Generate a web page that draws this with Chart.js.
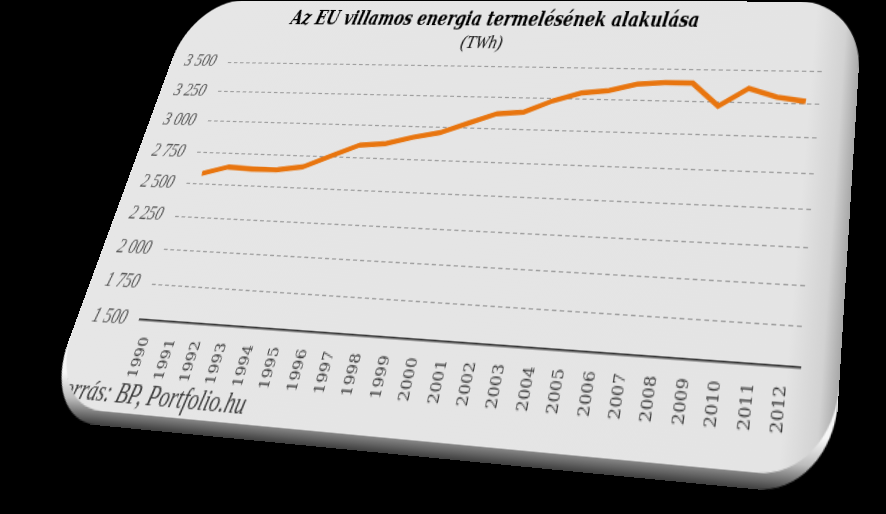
<!DOCTYPE html>
<html>
<head>
<meta charset="utf-8">
<script src="https://cdn.jsdelivr.net/npm/chart.js@4.4.1/dist/chart.umd.min.js"></script>
<style>
  html, body { margin: 0; padding: 0; background: #000; width: 886px; height: 514px; overflow: hidden; }
  #stage { position: absolute; left: 0; top: 0; width: 705px; height: 348px; transform-origin: 0 0; }
  #base { position: absolute; left: 0; top: 10px; width: 705px; height: 348px; border-radius: 58px;
    background: linear-gradient(to bottom, #f6f6f6 0%, #f6f6f6 90%, #bdbdbd 95%, #3e3e3e 100%); }
  #card { position: absolute; left: 0; top: 0; width: 705px; height: 348px; border-radius: 58px; overflow: hidden;
    background: linear-gradient(to right, #e6e6e6 0%, #e4e4e4 94%, #d2d2d2 98%, #a8a8a8 100%); }
  #chart { position: absolute; left: 0; top: 0; }
  #source { position: absolute; left: 1px; top: 323px; font: italic 20px 'Liberation Serif', serif; color: #3c3c3c; white-space: nowrap; }
</style>
</head>
<body>
<div id="stage">
  <div id="base"></div>
  <div id="card">
    <canvas id="chart" width="705" height="348"></canvas>
    <div id="source">Forrás: BP, Portfolio.hu</div>
  </div>
</div>
<script>
// Chart data (TWh)
const years = ['1990', '1991', '1992', '1993', '1994', '1995', '1996', '1997', '1998', '1999', '2000', '2001',
  '2002', '2003', '2004', '2005', '2006', '2007', '2008', '2009', '2010', '2011', '2012'];
const production = [2583, 2642, 2632, 2635, 2664, 2757, 2846, 2865, 2920, 2962, 3042, 3120,
  3138, 3231, 3297, 3320, 3374, 3391, 3390, 3219, 3358, 3296, 3268];
const yMin = 1500;
const yMax = 3500;
const yStep = 250;

// where the plot corners sit in the tilted photo: TL, TR, BR, BL
const plotCorners = [[228, 62], [823, 71], [800, 367], [140, 319]];

function formatThousands(v) {
  return String(v).replace(/\B(?=(\d{3})+(?!\d))/g, ' ');
}

const ctx = document.getElementById('chart').getContext('2d');
const chart = new Chart(ctx, {
  type: 'line',
  data: {
    labels: years,
    datasets: [
      {
        data: production,
        borderColor: '#e8750f',
        borderWidth: 4.5,
        pointRadius: 0,
        tension: 0,
        fill: false
      }
    ]
  },
  options: {
    responsive: false,
    animation: false,
    layout: {
      padding: { left: 2, right: 32, top: 4, bottom: 20 }
    },
    plugins: {
      legend: { display: false },
      tooltip: { enabled: false },
      title: {
        display: true,
        text: 'Az EU villamos energia termelésének alakulása',
        color: '#000',
        font: { family: "'DejaVu Serif Condensed', 'DejaVu Serif', serif", size: 18, weight: 'bold', style: 'italic' },
        padding: { top: 4, bottom: 0 }
      },
      subtitle: {
        display: true,
        text: '(TWh)',
        color: '#111',
        font: { family: "'Liberation Serif', serif", size: 17, style: 'italic' },
        padding: { top: 0, bottom: 10 }
      }
    },
    scales: {
      x: {
        offset: true,
        grid: { display: false },
        border: { display: true, color: '#333', width: 1.5 },
        ticks: {
          minRotation: 90,
          maxRotation: 90,
          autoSkip: false,
          padding: 5,
          color: '#3a3a3a',
          font: { family: "'DejaVu Serif', serif", size: 12 }
        }
      },
      y: {
        min: yMin,
        max: yMax,
        grid: { color: '#9c9c9c', lineWidth: 1, drawTicks: false },
        border: { display: false, dash: [4, 3] },
        ticks: {
          stepSize: yStep,
          padding: 14,
          color: '#555',
          font: { family: "'Liberation Serif', serif", size: 16, style: 'italic' },
          callback: (v) => formatThousands(v)
        }
      }
    }
  }
});

// Solve the 3x3 projective map that sends the flat plot area onto the tilted one
function homography(src, dst) {
  const A = [];
  for (let i = 0; i < 4; i++) {
    const [x, y] = src[i];
    const [u, v] = dst[i];
    A.push([x, y, 1, 0, 0, 0, -u * x, -u * y, u]);
    A.push([0, 0, 0, x, y, 1, -v * x, -v * y, v]);
  }
  const n = 8;
  for (let c = 0; c < n; c++) {
    let p = c;
    for (let r = c + 1; r < n; r++) if (Math.abs(A[r][c]) > Math.abs(A[p][c])) p = r;
    [A[c], A[p]] = [A[p], A[c]];
    for (let r = 0; r < n; r++) {
      if (r === c) continue;
      const f = A[r][c] / A[c][c];
      for (let k = c; k <= n; k++) A[r][k] -= f * A[c][k];
    }
  }
  return A.map((row, i) => row[n] / row[i]);
}

const area = chart.chartArea;
const flat = [[area.left, area.top], [area.right, area.top], [area.right, area.bottom], [area.left, area.bottom]];
const h = homography(flat, plotCorners);
document.getElementById('stage').style.transform =
  `matrix3d(${h[0]},${h[3]},0,${h[6]},${h[1]},${h[4]},0,${h[7]},0,0,1,0,${h[2]},${h[5]},0,1)`;
</script>
</body>
</html>
